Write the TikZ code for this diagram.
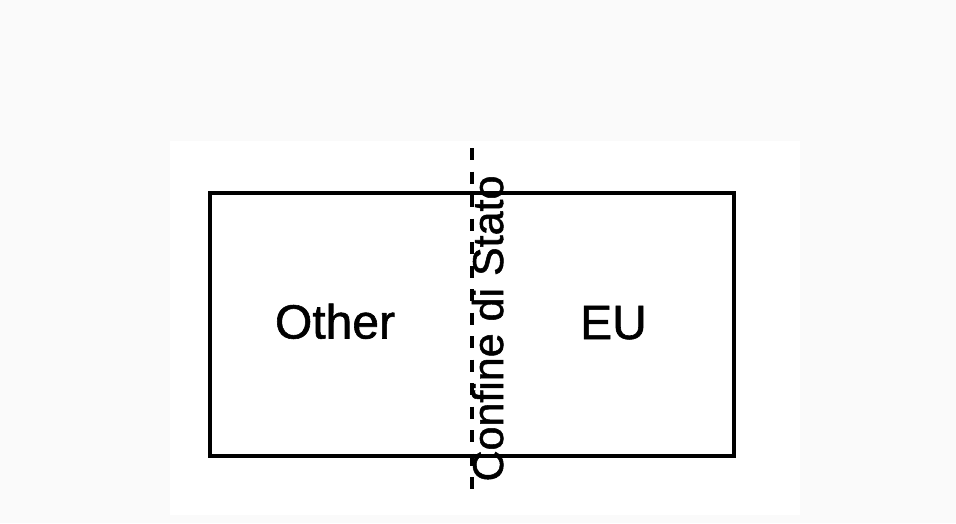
\documentclass[tikz,border=0pt]{standalone}
\usepackage{fontspec}
\setmainfont{Liberation Sans}
\newfontfamily\scanfont[FakeBold=1.2]{Liberation Sans}
\definecolor{bggray}{HTML}{FAFAFA}
\begin{document}
\begin{tikzpicture}[x=1pt,y=-1pt,
  label/.style={font=\scanfont\fontsize{48}{56}\selectfont, inner sep=0pt, anchor=base},
  border/.style={font=\scanfont\fontsize{43}{50}\selectfont, inner sep=0pt, anchor=base, rotate=90},
  frame/.style={draw=black, line width=4pt, minimum width=524.5pt, minimum height=263pt, inner sep=0pt},
  boundary/.style={draw=black, line width=4.5pt, dash pattern=on 12pt off 11.5pt}]
  \fill[bggray] (0,0) rectangle (956,523);
  \fill[white] (170,141) rectangle (800,515);
  \useasboundingbox (0,0) rectangle (956,523);
  \node[frame] (box) at (471.75,324.5) {};
  \coordinate (ctop) at (472,148);
  \coordinate (cbot) at (472,494);
  \draw[boundary] (ctop) -- (cbot);
  \node[border] (confine) at (503,328.5) {Confine di Stato};
  \node[label] (other) at (335,338.5) {Other};
  \node[label] (eu) at (613.5,339) {EU};
\end{tikzpicture}
\end{document}
